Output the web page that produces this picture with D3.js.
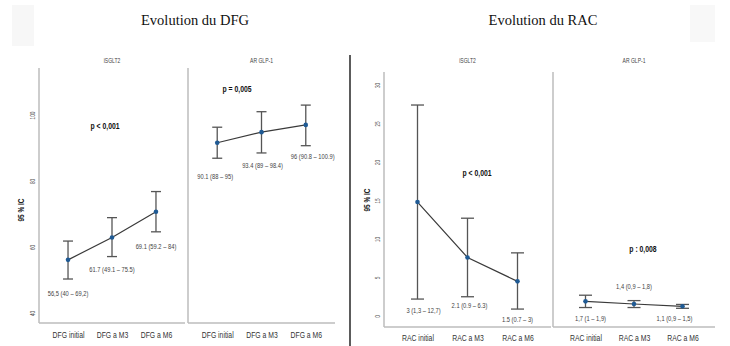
<!DOCTYPE html>
<html><head><meta charset="utf-8">
<script src="https://cdn.jsdelivr.net/npm/d3@7/dist/d3.min.js"></script>
<style>
body{margin:0;background:#fff;}
svg{display:block;}
.narrow{font-family:"Liberation Sans",Arial,sans-serif;}
</style></head>
<body>
<svg id="c" width="730" height="346"></svg>
<script>
// ---------- DATA ----------
const panels = ["iSGLT2", "AR GLP-1"];
const dfgCategories = ["DFG initial", "DFG a M3", "DFG a M6"];
const dfgTicks = [40, 60, 80, 100];
const dfgMeanSGLT2 = [56.1, 62.9, 70.7];
const dfgLowSGLT2  = [50.3, 57.1, 64.6];
const dfgHighSGLT2 = [61.8, 68.9, 76.8];
const dfgMeanGLP1  = [91.6, 94.8, 97.0];
const dfgLowGLP1   = [86.9, 88.5, 90.7];
const dfgHighGLP1  = [96.3, 101.0, 103.0];
const dfgLabelsSGLT2 = ["56,5 (40 – 69,2)", "61.7 (49.1 – 75.5)", "69.1 (59.2 – 84)"];
const dfgLabelsGLP1  = ["90.1 (88 – 95)", "93.4 (89 – 98.4)", "96 (90.8 – 100.9)"];
const dfgPValues = ["p < 0,001", "p = 0,005"];

const racCategories = ["RAC initial", "RAC a M3", "RAC a M6"];
const racTicks = [0, 5, 10, 15, 20, 25, 30];
const racMeanSGLT2 = [14.8, 7.6, 4.5];
const racLowSGLT2  = [2.2, 2.5, 0.9];
const racHighSGLT2 = [27.4, 12.7, 8.2];
const racMeanGLP1  = [1.9, 1.56, 1.26];
const racLowGLP1   = [1.1, 1.1, 1.0];
const racHighGLP1  = [2.7, 2.0, 1.5];
const racLabelsSGLT2 = ["3 (1,3 – 12,7)", "2.1 (0.9 – 6.3)", "1.5 (0.7 – 3)"];
const racLabelsGLP1  = ["1,7 (1 – 1,9)", "1,4 (0,9 – 1,8)", "1,1 (0,9 – 1,5)"];
const racPValues = ["p < 0,001", "p : 0,008"];

const titles = ["Evolution du DFG", "Evolution du RAC"];
const yTitle = "95 % IC";

// ---------- DRAW ----------
const svg = d3.select("#c");
const AXIS = "#bdbdbd", LINE = "#3a3a3a", ERR = "#555", DOT = "#1f5a94", TXT = "#333";
const SX = 0.72; // horizontal condensing of the narrow sans font

svg.append("rect").attr("x",12).attr("y",5).attr("width",22).attr("height",41).attr("fill","#f7f7f7");
svg.append("rect").attr("x",690).attr("y",5).attr("width",25).attr("height",37).attr("fill","#f8f8f8");

function ntext(sel, x, y, size, txt) {
  return sel.append("text").attr("class","narrow")
    .attr("transform", `translate(${x},${y}) scale(${SX},1)`)
    .attr("text-anchor","middle").attr("font-size",size).text(txt);
}

function drawChart(cfg) {
  const g = svg.append("g");
  const y = d3.scaleLinear().domain(cfg.yDomain).range(cfg.yRange);

  g.append("text").attr("x", cfg.titleX).attr("y", 25).attr("text-anchor","middle")
    .attr("font-family","'Liberation Serif','Times New Roman',serif").attr("font-size",14.5)
    .attr("fill","#111").text(cfg.title);

  const yAxis = d3.axisLeft(y).tickValues(cfg.ticks).tickSize(0).tickPadding(0);
  const ya = g.append("g").attr("transform",`translate(${cfg.panelX[0][0]},0)`).call(yAxis);
  ya.select(".domain").remove();
  ya.selectAll(".tick text").attr("class","narrow").attr("font-size",6.5).attr("fill","#555")
    .attr("transform",`translate(-4,0) rotate(-90) scale(${SX},1)`).attr("text-anchor","middle")
    .attr("dy","0").attr("x",0).attr("y",0);

  g.append("text").attr("class","narrow")
    .attr("transform",`translate(${cfg.yTitleX},${cfg.yTitleY}) rotate(-90) scale(${SX},1)`)
    .attr("text-anchor","middle").attr("font-size",9).attr("font-weight","bold").attr("fill","#222")
    .text(yTitle);

  cfg.panels.forEach((p, i) => {
    const [x0, x1] = cfg.panelX[i];
    const x = d3.scalePoint().domain(cfg.categories).range([x0, x1]).padding(cfg.pad);
    const pg = g.append("g");
    pg.append("line").attr("x1",x0).attr("x2",x0).attr("y1",cfg.axisTop).attr("y2",cfg.axisBottom)
      .attr("stroke",AXIS).attr("stroke-width",1.5);
    pg.append("line").attr("x1",x0).attr("x2",x1).attr("y1",cfg.axisBottom).attr("y2",cfg.axisBottom)
      .attr("stroke",AXIS).attr("stroke-width",1.5);
    ntext(pg, (x0+x1)/2, cfg.headerY, 7, panels[i]).attr("fill","#444");

    const xAxis = d3.axisBottom(x).tickSize(0).tickPadding(0);
    const xa = pg.append("g").attr("transform",`translate(0,${cfg.catY})`).call(xAxis);
    xa.select(".domain").remove();
    xa.selectAll(".tick text").attr("class","narrow").attr("font-size",9.5).attr("fill",TXT)
      .attr("dy","0").attr("y",0).attr("transform",`scale(${SX},1)`);

    const pts = cfg.categories.map((c, k) => ({c, m:p.mean[k], lo:p.low[k], hi:p.high[k], lab:p.labels[k], k}));
    const eb = pg.selectAll(".eb").data(pts).enter().append("g");
    eb.append("line").attr("x1",d=>x(d.c)).attr("x2",d=>x(d.c)).attr("y1",d=>y(d.lo)).attr("y2",d=>y(d.hi))
      .attr("stroke",ERR).attr("stroke-width",1.3);
    eb.append("line").attr("x1",d=>x(d.c)-cfg.cap).attr("x2",d=>x(d.c)+cfg.cap).attr("y1",d=>y(d.lo)).attr("y2",d=>y(d.lo))
      .attr("stroke",ERR).attr("stroke-width",1.3);
    eb.append("line").attr("x1",d=>x(d.c)-cfg.cap).attr("x2",d=>x(d.c)+cfg.cap).attr("y1",d=>y(d.hi)).attr("y2",d=>y(d.hi))
      .attr("stroke",ERR).attr("stroke-width",1.3);
    pg.append("path").datum(pts).attr("fill","none").attr("stroke",LINE).attr("stroke-width",1.2)
      .attr("d", d3.line().x(d=>x(d.c)).y(d=>y(d.m)));
    pg.selectAll(".dot").data(pts).enter().append("circle")
      .attr("cx",d=>x(d.c)).attr("cy",d=>y(d.m)).attr("r",2.3).attr("fill",DOT);
    pg.selectAll(".lab").data(pts).enter().append("text").attr("class","narrow")
      .attr("transform", d => {
        const o = p.labOff[d.k];
        const yy = (o[2]==="hi" ? y(d.hi) : y(d.lo)) + o[1];
        return `translate(${x(d.c)+o[0]},${yy}) scale(${SX},1)`;
      })
      .attr("text-anchor","middle").attr("font-size",8).attr("fill","#444").text(d=>d.lab);
    ntext(pg, p.pPos[0], p.pPos[1], 9.5, p.pText).attr("font-weight","bold").attr("fill","#111");
  });
}

drawChart({
  title: titles[0], titleX: 195,
  yDomain: [40, 100], yRange: [313, 115], ticks: dfgTicks,
  axisTop: 68, axisBottom: 323, headerY: 63, catY: 338,
  yTitleX: 24, yTitleY: 210,
  panelX: [[39, 185], [188, 335]], pad: 0.66, cap: 5,
  categories: dfgCategories,
  panels: [
    {mean: dfgMeanSGLT2, low: dfgLowSGLT2, high: dfgHighSGLT2, labels: dfgLabelsSGLT2,
     labOff: [[0,17,"lo"],[0,15,"lo"],[0,17,"lo"]], pText: dfgPValues[0], pPos: [105,129]},
    {mean: dfgMeanGLP1, low: dfgLowGLP1, high: dfgHighGLP1, labels: dfgLabelsGLP1,
     labOff: [[-2,21,"lo"],[1,15,"lo"],[7,13,"lo"]], pText: dfgPValues[1], pPos: [237,92]}
  ]
});

drawChart({
  title: titles[1], titleX: 543,
  yDomain: [0, 30], yRange: [316, 85], ticks: racTicks,
  axisTop: 72, axisBottom: 327, headerY: 63, catY: 341,
  yTitleX: 370, yTitleY: 200,
  panelX: [[384, 551], [553, 715]], pad: 0.67, cap: 6.5,
  categories: racCategories,
  panels: [
    {mean: racMeanSGLT2, low: racLowSGLT2, high: racHighSGLT2, labels: racLabelsSGLT2,
     labOff: [[6,14,"lo"],[2,11,"lo"],[0,13,"lo"]], pText: racPValues[0], pPos: [477,176]},
    {mean: racMeanGLP1, low: racLowGLP1, high: racHighGLP1, labels: racLabelsGLP1,
     labOff: [[5,13,"lo"],[0,-12,"hi"],[-8,13,"lo"]], pText: racPValues[1], pPos: [643,252]}
  ]
});

svg.append("line").attr("x1",350).attr("x2",350).attr("y1",55).attr("y2",346)
  .attr("stroke","#333").attr("stroke-width",1.6);
</script>
</body></html>
